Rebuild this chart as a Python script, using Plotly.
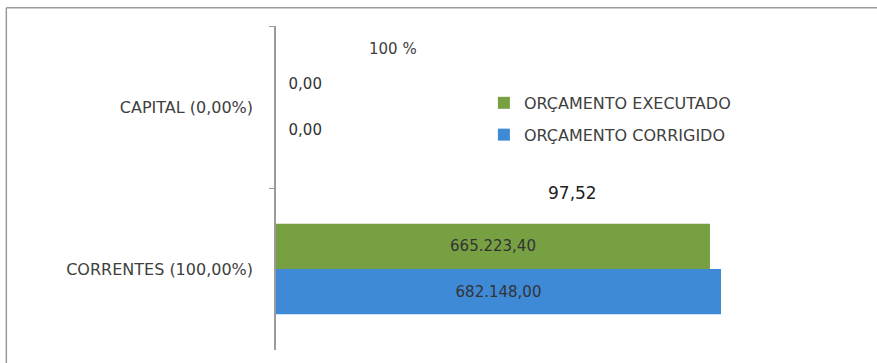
import plotly.graph_objects as go

# Budget execution by expense category
categories = ["CAPITAL (0,00%)", "CORRENTES (100,00%)"]
executado = [0.0, 665223.40]
corrigido = [0.0, 682148.00]
executado_labels = ["0,00", "665.223,40"]
corrigido_labels = ["0,00", "682.148,00"]
pct_labels = ["100 %", "97,52"]

FONT = "DejaVu Sans"
TXT = "#404040"
GREEN = "#77A043"
BLUE = "#3F8AD6"

# zero-width bars get their label just right of the axis, with a little padding
label_templates = ["\u00a0\u00a0%{text}", "%{text}"]

fig = go.Figure()

fig.add_trace(go.Bar(
    y=categories, x=executado, orientation="h",
    name="ORÇAMENTO EXECUTADO", legendgroup="a",
    marker=dict(color=GREEN, line=dict(width=0)),
    text=executado_labels, texttemplate=label_templates,
    textposition=["outside", "inside"],
    insidetextanchor="middle", constraintext="none",
    textfont=dict(family=FONT, size=15, color="#333333"),
    cliponaxis=False,
))
fig.add_trace(go.Bar(
    y=categories, x=corrigido, orientation="h",
    name="ORÇAMENTO CORRIGIDO", legendgroup="b",
    marker=dict(color=BLUE, line=dict(width=0)),
    text=corrigido_labels, texttemplate=label_templates,
    textposition=["outside", "inside"],
    insidetextanchor="middle", constraintext="none",
    textfont=dict(family=FONT, size=15, color="#333333"),
    cliponaxis=False,
))

# percentage of execution shown above each category
fig.add_annotation(x=0.153, xref="paper", y=-0.36, yref="y",
                   text=pct_labels[0], showarrow=False,
                   font=dict(family=FONT, size=15, color=TXT))
fig.add_annotation(x=0.499, xref="paper", y=0.53, yref="y",
                   text=pct_labels[1], showarrow=False,
                   font=dict(family=FONT, size=17, color="#222222"))

# frame lines along the top and left of the chart
fig.add_shape(type="line", xref="paper", yref="paper",
              x0=-0.454, x1=1.02, y0=1.056, y1=1.056,
              line=dict(color="#9a9a9a", width=1.5))
fig.add_shape(type="line", xref="paper", yref="paper",
              x0=-0.454, x1=-0.454, y0=1.056, y1=-0.1,
              line=dict(color="#9a9a9a", width=1.5))

fig.update_layout(
    width=877, height=363,
    margin=dict(l=276, r=7, t=26, b=13),
    paper_bgcolor="white", plot_bgcolor="white",
    barmode="group", bargap=0.44, bargroupgap=0,
    font=dict(family=FONT, size=16, color=TXT),
    showlegend=True,
    legend=dict(x=0.35, y=0.815, xanchor="left", yanchor="top",
                traceorder="grouped", tracegroupgap=8,
                font=dict(family=FONT, size=16, color=TXT),
                bgcolor="rgba(0,0,0,0)"),
    xaxis=dict(range=[0, 910548], visible=False, showgrid=False,
               zeroline=False, fixedrange=True),
    yaxis=dict(autorange="reversed", tickson="boundaries",
               ticks="outside", ticklen=5, tickcolor="#9a9a9a",
               showline=True, linecolor="#9a9a9a", linewidth=1.5,
               showgrid=False, ticklabelstandoff=18,
               tickfont=dict(family=FONT, size=16, color=TXT)),
)

fig.write_html("out.html")
